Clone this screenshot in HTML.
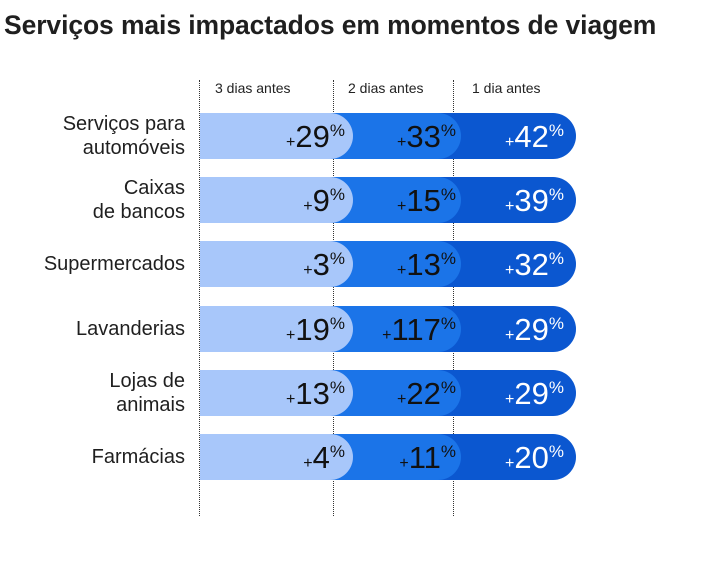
<!DOCTYPE html><html><head><style>
body{margin:0;width:723px;height:572px;background:#fff;font-family:"Liberation Sans",sans-serif;position:relative;overflow:hidden}
.t{position:absolute;left:4px;top:10px;font-size:26.5px;font-weight:bold;color:#1f1f1f;letter-spacing:-0.1px}
.v{position:absolute;top:80px;height:436px;border-left:1.5px dotted #333;width:0}
.h{position:absolute;top:80px;font-size:14px;color:#222}
.row{position:absolute;left:200px;height:46px;width:376px}
.b{position:absolute;left:0;top:0;height:46px;border-radius:0 23px 23px 0}
.lab{position:absolute;right:538px;font-size:20px;color:#1f1f1f;text-align:right;line-height:24px}
.n{position:absolute;top:0;height:46px;line-height:48px;font-size:31px;text-align:right;white-space:nowrap}
.n small{font-size:16px}
.n sup{font-size:17px;vertical-align:0;position:relative;top:-11px}
</style></head><body>
<div class="t">Serviços mais impactados em momentos de viagem</div>
<div class="v" style="left:199px"></div><div class="v" style="left:333px"></div><div class="v" style="left:453px"></div>
<div class="h" style="left:215px">3 dias antes</div>
<div class="h" style="left:348px">2 dias antes</div>
<div class="h" style="left:472px">1 dia antes</div>
<script>
var d=[["Serviços para<br>automóveis",29,33,42],["Caixas<br>de bancos",9,15,39],["Supermercados",3,13,32],["Lavanderias",19,117,29],["Lojas de<br>animais",13,22,29],["Farmácias",4,11,20]];
var h="";
d.forEach(function(r,i){var y=113+i*64.2;
var two=r[0].indexOf("<br>")>0;
h+='<div class="lab" style="top:'+(y+(two?-1:11))+'px">'+r[0]+'</div>';
h+='<div class="row" style="top:'+y+'px"><div class="b" style="width:376px;background:#0b57d0"></div><div class="b" style="width:261px;background:#1b74e8"></div><div class="b" style="width:153px;background:#a8c7fa"></div>';
var n=function(v,right,c){return '<div class="n" style="right:'+right+'px;color:'+c+'"><small>+</small>'+v+'<sup>%</sup></div>';};
h+=n(r[1],231,"#111")+n(r[2],120,"#111")+n(r[3],12,"#fff")+'</div>';});
document.write(h);
</script>
</body></html>
